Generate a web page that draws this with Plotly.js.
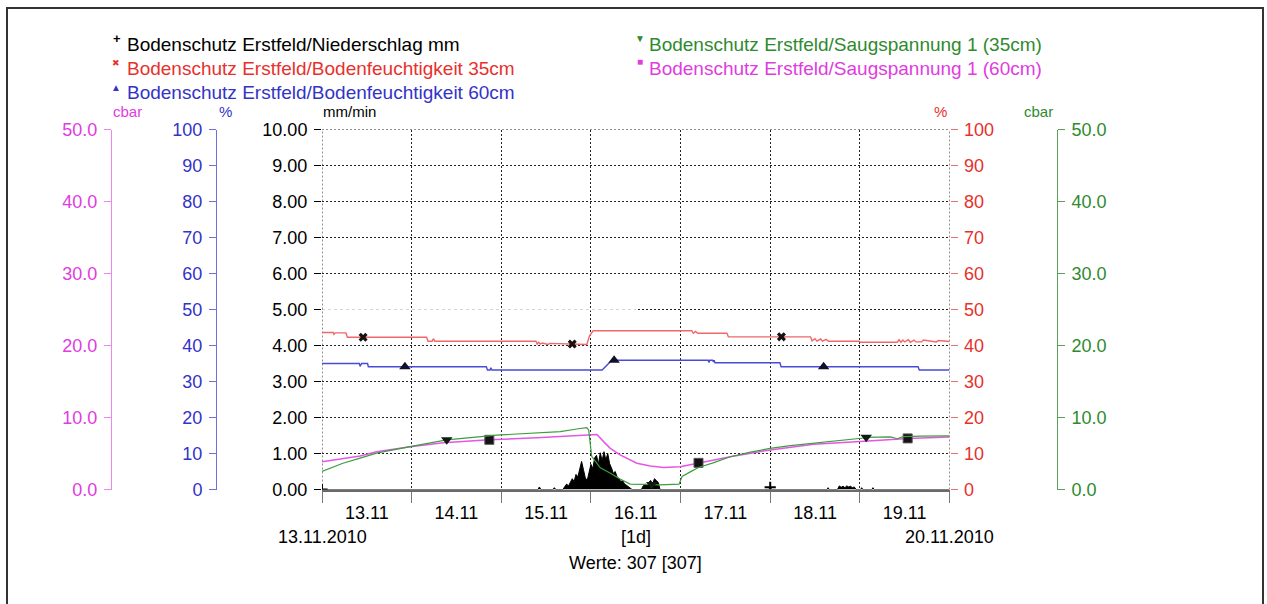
<!DOCTYPE html>
<html><head><meta charset="utf-8">
<script src="https://cdn.plot.ly/plotly-3.0.1.min.js"></script>
<style>html,body{margin:0;padding:0;background:#fff;}#chart{width:1267px;height:604px;}</style>
</head><body><div id="chart"></div>
<script>
// ---- data (hours after 13.11.2010 00:00) ----
const startLabel = '13.11.2010';
const endLabel = '20.11.2010';
const intervalLabel = '[1d]';
const countLabel = 'Werte: 307 [307]';

const legendNames = [
  'Bodenschutz Erstfeld/Niederschlag mm',
  'Bodenschutz Erstfeld/Bodenfeuchtigkeit 35cm',
  'Bodenschutz Erstfeld/Bodenfeuchtigkeit 60cm',
  'Bodenschutz Erstfeld/Saugspannung 1 (35cm)',
  'Bodenschutz Erstfeld/Saugspannung 1 (60cm)'
];

// Niederschlag mm/min
const precipHours = [0, 57.8, 58.2, 58.6, 61.8, 62.2, 62.6, 64.5, 65.0, 65.5,
  66.0, 66.5, 67.0, 67.5, 68.0, 68.5, 69.0, 69.5, 70.0, 70.5,
  71.0, 71.5, 72.0, 72.5, 73.0, 73.5, 74.0, 74.5, 75.0, 75.5,
  76.0, 76.5, 77.0, 77.5, 78.0, 78.5, 79.0, 79.5, 80.0, 80.5,
  81.0, 81.5, 82.0, 82.5, 83.0, 85.5, 86.0, 86.5, 87.0, 87.5,
  88.0, 88.5, 89.0, 89.5, 90.0, 90.5, 119.6, 120, 120.4, 135.2,
  135.5, 135.8, 138.0, 138.5, 139.0, 139.5, 140.0, 140.5, 141.0, 141.5,
  142.0, 142.5, 143.0, 144.2, 144.5, 144.8, 147.2, 147.5, 147.8, 168];
const precipVals = [0, 0, 0.07, 0, 0, 0.05, 0, 0, 0.08, 0.15,
  0.1, 0.2, 0.3, 0.22, 0.42, 0.35, 0.58, 0.78, 0.55, 0.32,
  0.25, 0.5, 0.7, 0.58, 0.88, 0.95, 0.7, 1.02, 0.8, 1.05,
  0.82, 1.0, 0.72, 0.6, 0.45, 0.5, 0.35, 0.3, 0.22, 0.25,
  0.15, 0.12, 0.08, 0.05, 0, 0, 0.1, 0.15, 0.12, 0.2,
  0.25, 0.15, 0.3, 0.25, 0.2, 0, 0, 0.06, 0, 0,
  0.05, 0, 0, 0.1, 0.06, 0.09, 0.05, 0.1, 0.07, 0.09,
  0.05, 0.07, 0, 0, 0.05, 0, 0, 0.05, 0, 0];
const precipMarkerHours = [0, 120];

// Bodenfeuchtigkeit 35cm (%)
const redHours = [0, 3.0, 3.2, 3.5, 6.4, 6.8, 11, 28.0, 28.4, 29.5,
  29.8, 30.2, 57.3, 57.6, 58.0, 58.4, 59.0, 60.5, 61.0, 67,
  69.0, 70.9, 71.6, 72.6, 99.0, 99.4, 100.0, 100.6, 108.4, 108.8,
  123, 130.8, 131.2, 132.0, 132.5, 133.5, 134.0, 135.0, 135.6, 143.8,
  144.2, 154.0, 154.5, 155.0, 155.5, 156.0, 157.0, 157.5, 158.5, 159.0,
  160.5, 161.0, 164.5, 165.0, 168];
const redVals = [43.6, 43.6, 43.1, 43.5, 43.5, 42.3, 42.3, 42.3, 41.2, 41.2,
  41.9, 41.2, 41.2, 40.4, 40.9, 40.4, 40.7, 40.3, 40.6, 40.4,
  40.3, 40.3, 42.6, 44.1, 44.1, 43.4, 43.9, 43.4, 43.4, 42.4,
  42.4, 42.4, 41.3, 41.9, 41.2, 41.8, 41.2, 41.7, 41.2, 41.2,
  40.9, 40.9, 41.6, 40.9, 41.5, 41.0, 41.6, 40.9, 41.5, 41.0,
  41.0, 41.5, 41.0, 41.4, 41.1];
const redMarkerHours = [11, 67, 123];

// Bodenfeuchtigkeit 60cm (%)
const blueHours = [0, 10.0, 10.2, 10.6, 12.2, 12.4, 22.2, 44.0, 44.3, 45.0,
  45.2, 45.5, 75.0, 76.5, 77.6, 78.2, 103.4, 103.6, 103.8, 104.6,
  104.8, 105.0, 105.2, 122.6, 122.9, 134.3, 159.6, 159.9, 168];
const blueVals = [35.0, 35.0, 34.2, 35.0, 35.0, 34.1, 34.1, 34.1, 33.2, 33.2,
  33.8, 33.2, 33.2, 34.8, 35.9, 35.9, 35.9, 35.3, 35.9, 35.9,
  35.4, 35.9, 35.2, 35.2, 34.1, 34.1, 34.1, 33.2, 33.2];
const blueMarkerHours = [22.2, 78.2, 134.3];

// Saugspannung 1 (35cm) cbar
const greenHours = [0, 5.6, 10.2, 14.6, 23.6, 33.4, 46.8, 57.5, 63.8, 68.2,
  70.9, 71.4, 72.2, 74.5, 77.1, 79.8, 82.5, 86.5, 88.3, 90.5,
  95.6, 96.4, 98.6, 100.8, 104.7, 109.3, 114.7, 120.0, 125.4, 131.5,
  138.8, 145.0, 145.7, 152.2, 154.0, 155.6, 160.2, 168];
const greenVals = [2.5, 3.65, 4.35, 5.05, 5.95, 6.9, 7.55, 7.9, 8.05, 8.4,
  8.6, 8.25, 4.6, 3.0, 2.3, 1.45, 0.75, 0.7, 0.68, 0.63,
  0.75, 1.8, 2.45, 3.05, 3.7, 4.55, 5.2, 5.7, 6.1, 6.4,
  6.8, 7.15, 7.25, 7.3, 7.05, 7.35, 7.4, 7.45];
const greenMarkerHours = [33.4, 88.3, 145.7];

// Saugspannung 1 (60cm) cbar
const magHours = [0, 5.7, 10.2, 14.6, 23.6, 32.5, 44.8, 57.5, 68.2, 73.6,
  75.4, 77.1, 79.8, 84.3, 87.9, 91.4, 95.9, 100.8, 109.3, 120.0,
  131.6, 144.1, 156.8, 168];
const magVals = [3.85, 4.3, 4.65, 5.25, 5.95, 6.5, 6.9, 7.2, 7.55, 7.65,
  6.65, 5.75, 4.8, 3.65, 3.25, 3.05, 3.15, 3.7, 4.55, 5.5,
  6.3, 6.65, 7.1, 7.3];
const magMarkerHours = [44.8, 100.8, 156.8];

const gridFadeEndHour = 84;

// ---- helpers ----
function toDate(h) {
  const d = new Date(Date.UTC(2010, 10, 13) + Math.round(h * 3600000));
  const p = n => String(n).padStart(2, '0');
  return d.getUTCFullYear() + '-' + p(d.getUTCMonth() + 1) + '-' + p(d.getUTCDate()) +
    ' ' + p(d.getUTCHours()) + ':' + p(d.getUTCMinutes()) + ':' + p(d.getUTCSeconds());
}
function pick(hours, vals, mh) { return mh.map(h => vals[hours.indexOf(h)]); }

const W = 1267, H = 604;
const px = x => x / W;
const py = y => 1 - y / H;
const FONT = 'Liberation Sans, Arial, Helvetica, sans-serif';

const C = {
  black: '#000000',
  redTxt: '#e8302c', redLine: '#f06868', redTick: '#f07070',
  blueTxt: '#3333c8', blueLine: '#4a4ad8', blueAx: '#7070dc',
  greenTxt: '#2f8a2f', greenLine: '#3c9e3c', greenAx: '#5aa05a',
  magTxt: '#e03ce0', magLine: '#e656e6', magAx: '#ec88ec'
};
const GRID = {color: '#222', width: 1, dash: '2px,2px'};

const traces = [
  {x: precipHours.map(toDate), y: precipVals, yaxis: 'y', mode: 'lines', fill: 'tozeroy',
   fillcolor: '#000', line: {color: '#000', width: 1}, hoverinfo: 'skip'},
  {x: redHours.map(toDate), y: redVals, yaxis: 'y4', mode: 'lines', line: {color: C.redLine, width: 1.4}},
  {x: blueHours.map(toDate), y: blueVals, yaxis: 'y2', mode: 'lines', line: {color: C.blueLine, width: 1.4}},
  {x: greenHours.map(toDate), y: greenVals, yaxis: 'y5', mode: 'lines', line: {color: C.greenLine, width: 1.2}},
  {x: magHours.map(toDate), y: magVals, yaxis: 'y3', mode: 'lines', line: {color: C.magLine, width: 1.5}},
  {x: precipMarkerHours.map(toDate), y: pick(precipHours, precipVals, precipMarkerHours), yaxis: 'y',
   mode: 'markers', marker: {symbol: 'cross-thin', size: 8, line: {color: '#000', width: 2}}},
  {x: redMarkerHours.map(toDate), y: pick(redHours, redVals, redMarkerHours), yaxis: 'y4',
   mode: 'markers', marker: {symbol: 'x', size: 8, color: '#1a1010'}},
  {x: blueMarkerHours.map(toDate), y: pick(blueHours, blueVals, blueMarkerHours), yaxis: 'y2',
   mode: 'markers', marker: {symbol: 'triangle-up', size: 10, color: '#10102a'}},
  {x: greenMarkerHours.map(toDate), y: pick(greenHours, greenVals, greenMarkerHours), yaxis: 'y5',
   mode: 'markers', marker: {symbol: 'triangle-down', size: 10, color: '#101a10'}},
  {x: magMarkerHours.map(toDate), y: pick(magHours, magVals, magMarkerHours), yaxis: 'y3',
   mode: 'markers', marker: {symbol: 'square', size: 9, color: '#181018', line: {color: '#555', width: 1}}}
];

const yDomain = [py(489.5), py(129.5)];
const baseY = {
  overlaying: 'y', domain: yDomain, tickmode: 'linear', tick0: 0, ticks: 'outside', ticklen: 7,
  showgrid: false, zeroline: false, ticklabelstandoff: 3, fixedrange: true
};

function ann(text, x, y, xanchor, color, size) {
  return {text: text, x: px(x), y: py(y), xref: 'paper', yref: 'paper', xanchor: xanchor,
          yanchor: 'middle', showarrow: false, font: {color: color, size: size, family: FONT}};
}

const LEG = 19;
const annotations = [
  ann('<b>+</b>', 117, 39, 'center', C.black, 13),
  ann(legendNames[0], 125, 45, 'left', C.black, LEG),
  ann('✖', 116, 63, 'center', C.redTxt, 9),
  ann(legendNames[1], 125, 68.5, 'left', C.redTxt, LEG),
  ann('▲', 116, 87, 'center', C.blueTxt, 10),
  ann(legendNames[2], 125, 92, 'left', C.blueTxt, LEG),
  ann('▼', 640, 39, 'center', C.greenTxt, 10),
  ann(legendNames[3], 647, 45, 'left', C.greenTxt, LEG),
  ann('■', 640, 62, 'center', C.magTxt, 10),
  ann(legendNames[4], 647, 68.5, 'left', C.magTxt, LEG),
  ann('cbar', 111, 111, 'left', C.magTxt, 15),
  ann('%', 217, 111, 'left', C.blueTxt, 15),
  ann('mm/min', 321, 111, 'left', C.black, 15),
  ann('%', 949, 111, 'right', C.redTxt, 15),
  ann('cbar', 1055, 111, 'right', C.greenTxt, 15),
  {text: startLabel, x: toDate(0), xref: 'x', y: py(537), yref: 'paper', xanchor: 'center', yanchor: 'middle',
   showarrow: false, font: {size: 18, color: '#000'}},
  {text: endLabel, x: toDate(168), xref: 'x', y: py(537), yref: 'paper', xanchor: 'center', yanchor: 'middle',
   showarrow: false, font: {size: 18, color: '#000'}},
  ann(intervalLabel, 635.7, 537, 'center', C.black, 18),
  ann(countLabel, 635.7, 563, 'center', C.black, 18)
];

const layout = {
  width: W, height: H, margin: {l: 0, r: 0, t: 0, b: 0},
  paper_bgcolor: '#fff', plot_bgcolor: 'rgba(0,0,0,0)', showlegend: false,
  font: {family: FONT, size: 18, color: '#000'},
  hovermode: false,
  xaxis: {
    type: 'date', domain: [px(322), px(949.5)], range: [toDate(0), toDate(168)],
    tickmode: 'linear', tick0: toDate(0), dtick: 86400000, ticklabelmode: 'period', tickformat: '%d.%m',
    ticks: 'outside', ticklen: 11, tickcolor: '#777', tickwidth: 1,
    showgrid: true, gridcolor: GRID.color, griddash: GRID.dash, gridwidth: 1,
    showline: true, linecolor: '#6a6a6a', linewidth: 2, zeroline: false, anchor: 'y',
    tickfont: {size: 18, color: '#000'}, ticklabelstandoff: -5, fixedrange: true
  },
  yaxis: {
    domain: yDomain, range: [0, 10], tickmode: 'linear', tick0: 0, dtick: 1, tickformat: '.2f',
    ticks: 'outside', ticklen: 7, tickcolor: '#000', showgrid: true, gridcolor: GRID.color, griddash: GRID.dash,
    gridwidth: 1, zeroline: false, showline: false, anchor: 'x', side: 'left',
    tickfont: {color: '#000'}, ticklabelstandoff: 3, fixedrange: true
  },
  yaxis2: Object.assign({}, baseY, {
    anchor: 'free', position: px(216), side: 'left', range: [0, 100], dtick: 10,
    showline: true, linecolor: C.blueAx, linewidth: 1, tickcolor: C.blueAx, tickfont: {color: C.blueTxt}
  }),
  yaxis3: Object.assign({}, baseY, {
    anchor: 'free', position: px(111), side: 'left', range: [0, 50], dtick: 10, tickformat: '.1f',
    showline: true, linecolor: C.magAx, linewidth: 1, tickcolor: C.magAx, tickfont: {color: C.magTxt}
  }),
  yaxis4: Object.assign({}, baseY, {
    anchor: 'x', side: 'right', range: [0, 100], dtick: 10,
    showline: false, tickcolor: C.redTick, tickfont: {color: C.redTxt}
  }),
  yaxis5: Object.assign({}, baseY, {
    anchor: 'free', position: px(1057), side: 'right', range: [0, 50], dtick: 10, tickformat: '.1f',
    showline: true, linecolor: C.greenAx, linewidth: 1, tickcolor: C.greenAx, tickfont: {color: C.greenTxt}
  }),
  annotations: annotations,
  shapes: [
    {type: 'line', xref: 'x', yref: 'y', x0: toDate(0), x1: toDate(gridFadeEndHour), y0: 5, y1: 5,
     line: {color: '#ffffff', width: 2}, layer: 'between'},
    {type: 'line', xref: 'x', yref: 'y', x0: toDate(0), x1: toDate(gridFadeEndHour), y0: 5, y1: 5,
     line: {color: '#d4d4d4', width: 1, dash: '3px,3px'}, layer: 'between'},
    {type: 'line', xref: 'x', yref: 'y', x0: toDate(0), x1: toDate(0), y0: 0, y1: 10,
     line: GRID, layer: 'between'},
    {type: 'line', xref: 'x', yref: 'y', x0: toDate(168), x1: toDate(168), y0: 0, y1: 10,
     line: GRID, layer: 'between'},
    {type: 'line', xref: 'x', yref: 'y', x0: toDate(0), x1: toDate(168), y0: 10, y1: 10,
     line: GRID, layer: 'between'},
    {type: 'rect', xref: 'paper', yref: 'paper', x0: px(7), x1: px(1263), y0: -0.1, y1: py(8),
     line: {color: '#333', width: 2}, fillcolor: 'rgba(0,0,0,0)', layer: 'above'}
  ]
};

Plotly.newPlot('chart', traces, layout, {displayModeBar: false, staticPlot: true});
</script>
</body></html>
